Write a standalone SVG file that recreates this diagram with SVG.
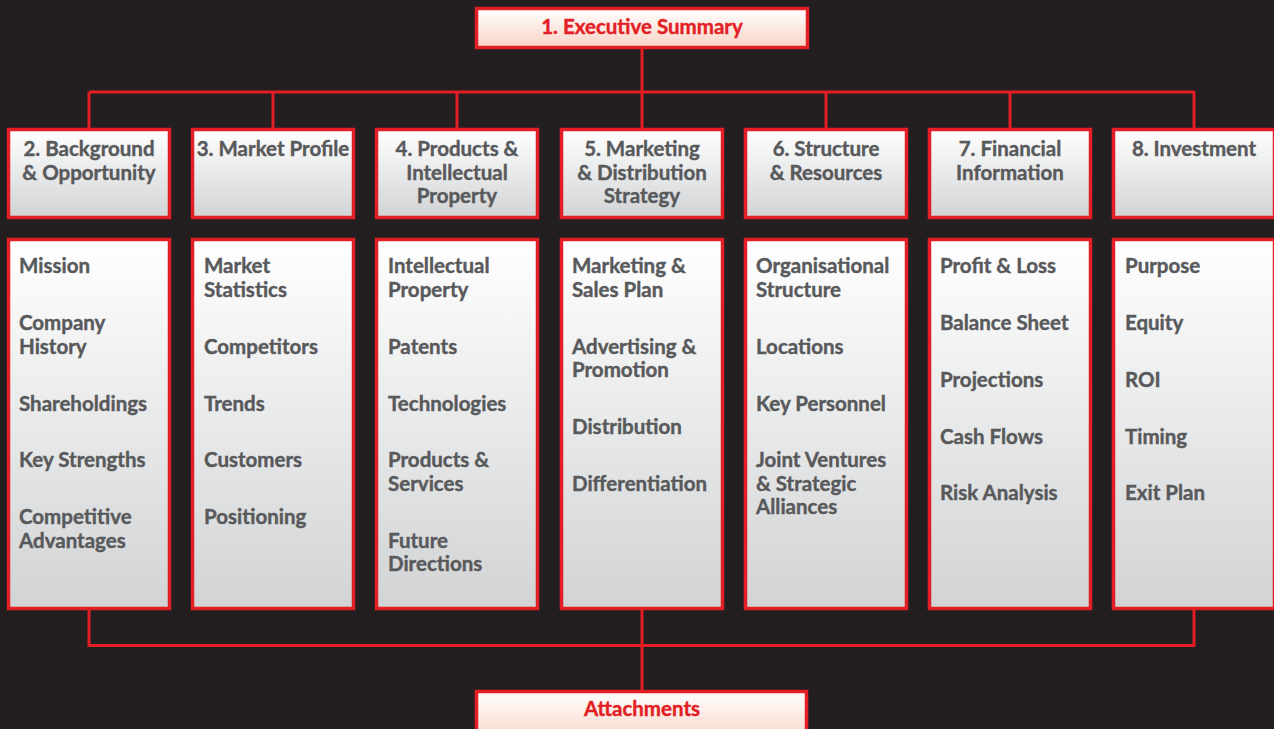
<svg xmlns="http://www.w3.org/2000/svg" width="1274" height="729" viewBox="0 0 1274 729">
<style>
.box{stroke:#e31e24;stroke-width:3.5}
.gray{fill:url(#g)}
.peach{fill:url(#p)}
.conn{stroke:#e31e24;stroke-width:3;fill:none}
text{font-family:Lato,"Open Sans","Liberation Sans",sans-serif;font-weight:bold;font-size:20.5px;stroke-width:0.4px}
.h{fill:#58595b;stroke:#58595b;text-anchor:middle}
.b{fill:#58595b;stroke:#58595b}
.r{fill:#e31e24;stroke:#e31e24;text-anchor:middle}
</style>
<defs>
<linearGradient id="g" x1="0" y1="0" x2="0" y2="1"><stop offset="0" stop-color="#ffffff"/><stop offset="1" stop-color="#d1d3d4"/></linearGradient>
<linearGradient id="p" x1="0" y1="0" x2="0" y2="1"><stop offset="0" stop-color="#ffffff"/><stop offset="1" stop-color="#f8d3c5"/></linearGradient>
</defs>
<rect width="1274" height="729" fill="#231f20"/>
<g id="connectors">
<path class="conn" d="M642 49V92M89 92H1195M89 92V128M273 92V128M457 92V128M642 92V128M826 92V128M1010 92V128M1194 92V128"/>
<path class="conn" d="M89 610V645.5H1194V610M642 610V690"/>
</g>
<g id="exec">
<rect class="box peach" x="476.5" y="8.5" width="331" height="39"/>
<text class="r" x="642" y="34">1. Executive Summary</text>
</g>
<g id="col2">
<rect class="box gray" x="8.5" y="129.5" width="161" height="88"/>
<text class="h" x="89" y="156">2. Background</text>
<text class="h" x="89" y="180">&amp; Opportunity</text>
<rect class="box gray" x="8.5" y="239.5" width="161" height="369"/>
<text class="b" x="19" y="273">Mission</text>
<text class="b" x="19" y="330">Company</text>
<text class="b" x="19" y="354">History</text>
<text class="b" x="19" y="411">Shareholdings</text>
<text class="b" x="19" y="467">Key Strengths</text>
<text class="b" x="19" y="524">Competitive</text>
<text class="b" x="19" y="548">Advantages</text>
</g>
<g id="col3">
<rect class="box gray" x="192.5" y="129.5" width="161" height="88"/>
<text class="h" x="273" y="156">3. Market Profile</text>
<rect class="box gray" x="192.5" y="239.5" width="161" height="369"/>
<text class="b" x="204" y="273">Market</text>
<text class="b" x="204" y="297">Statistics</text>
<text class="b" x="204" y="354">Competitors</text>
<text class="b" x="204" y="411">Trends</text>
<text class="b" x="204" y="467">Customers</text>
<text class="b" x="204" y="524">Positioning</text>
</g>
<g id="col4">
<rect class="box gray" x="376.5" y="129.5" width="161" height="88"/>
<text class="h" x="457" y="156">4. Products &amp;</text>
<text class="h" x="457" y="180">Intellectual</text>
<text class="h" x="457" y="203">Property</text>
<rect class="box gray" x="376.5" y="239.5" width="161" height="369"/>
<text class="b" x="388" y="273">Intellectual</text>
<text class="b" x="388" y="297">Property</text>
<text class="b" x="388" y="354">Patents</text>
<text class="b" x="388" y="411">Technologies</text>
<text class="b" x="388" y="467">Products &amp;</text>
<text class="b" x="388" y="491">Services</text>
<text class="b" x="388" y="548">Future</text>
<text class="b" x="388" y="571">Directions</text>
</g>
<g id="col5">
<rect class="box gray" x="561.5" y="129.5" width="161" height="88"/>
<text class="h" x="642" y="156">5. Marketing</text>
<text class="h" x="642" y="180">&amp; Distribution</text>
<text class="h" x="642" y="203">Strategy</text>
<rect class="box gray" x="561.5" y="239.5" width="161" height="369"/>
<text class="b" x="572" y="273">Marketing &amp;</text>
<text class="b" x="572" y="297">Sales Plan</text>
<text class="b" x="572" y="354">Advertising &amp;</text>
<text class="b" x="572" y="377">Promotion</text>
<text class="b" x="572" y="434">Distribution</text>
<text class="b" x="572" y="491">Differentiation</text>
</g>
<g id="col6">
<rect class="box gray" x="745.5" y="129.5" width="161" height="88"/>
<text class="h" x="826" y="156">6. Structure</text>
<text class="h" x="826" y="180">&amp; Resources</text>
<rect class="box gray" x="745.5" y="239.5" width="161" height="369"/>
<text class="b" x="756" y="273">Organisational</text>
<text class="b" x="756" y="297">Structure</text>
<text class="b" x="756" y="354">Locations</text>
<text class="b" x="756" y="411">Key Personnel</text>
<text class="b" x="756" y="467">Joint Ventures</text>
<text class="b" x="756" y="491">&amp; Strategic</text>
<text class="b" x="756" y="514">Alliances</text>
</g>
<g id="col7">
<rect class="box gray" x="929.5" y="129.5" width="161" height="88"/>
<text class="h" x="1010" y="156">7. Financial</text>
<text class="h" x="1010" y="180">Information</text>
<rect class="box gray" x="929.5" y="239.5" width="161" height="369"/>
<text class="b" x="940" y="273">Profit &amp; Loss</text>
<text class="b" x="940" y="330">Balance Sheet</text>
<text class="b" x="940" y="387">Projections</text>
<text class="b" x="940" y="444">Cash Flows</text>
<text class="b" x="940" y="500">Risk Analysis</text>
</g>
<g id="col8">
<rect class="box gray" x="1113.5" y="129.5" width="161" height="88"/>
<text class="h" x="1194" y="156">8. Investment</text>
<rect class="box gray" x="1113.5" y="239.5" width="161" height="369"/>
<text class="b" x="1125" y="273">Purpose</text>
<text class="b" x="1125" y="330">Equity</text>
<text class="b" x="1125" y="387">ROI</text>
<text class="b" x="1125" y="444">Timing</text>
<text class="b" x="1125" y="500">Exit Plan</text>
</g>
<g id="attachments">
<rect class="box peach" x="476.5" y="691.5" width="330" height="50"/>
<text class="r" x="642" y="716">Attachments</text>
</g>
</svg>
